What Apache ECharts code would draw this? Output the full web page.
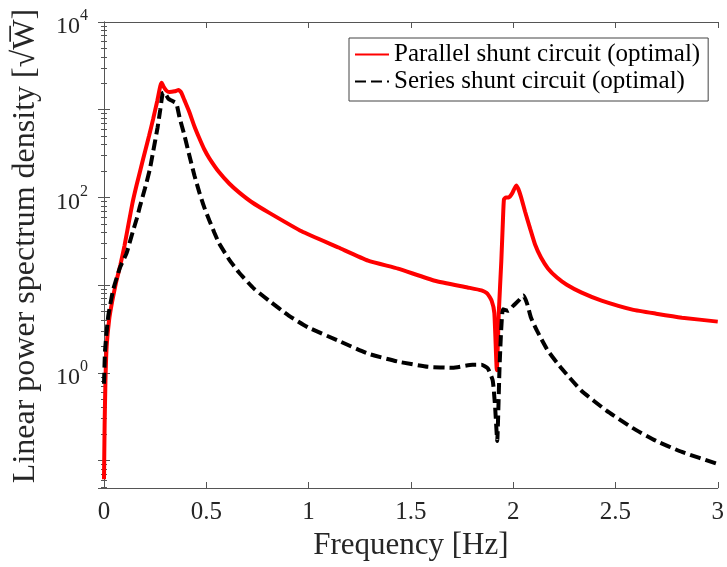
<!DOCTYPE html>
<html>
<head>
<meta charset="utf-8">
<script src="https://cdn.jsdelivr.net/npm/echarts@6/dist/echarts.min.js"></script>
<style>html,body{margin:0;padding:0;background:#fff}#c{width:727px;height:567px}</style>
</head>
<body>
<div id="c"></div>
<script>
// Frequency [Hz] and PSD values
const freqParallel = [0, 0.003, 0.007, 0.013, 0.025, 0.04, 0.06, 0.08, 0.1, 0.12, 0.14, 0.16, 0.18, 0.2, 0.22, 0.24, 0.26, 0.275, 0.282, 0.29, 0.305, 0.32, 0.345, 0.365, 0.378, 0.393, 0.4175, 0.4417, 0.466, 0.49, 0.515, 0.563, 0.612, 0.66, 0.723, 0.806, 0.966, 1.146, 1.291, 1.437, 1.617, 1.777, 1.845, 1.874, 1.895, 1.908, 1.92, 1.93, 1.942, 1.95, 1.955, 1.965, 1.979, 1.995, 2.015, 2.025, 2.039, 2.058, 2.083, 2.107, 2.136, 2.17, 2.214, 2.262, 2.335, 2.432, 2.583, 2.699, 2.825, 3.0];
const psdParallel = [0.061, 0.25, 0.8, 2.0, 4.0, 6.5, 11, 17, 28, 50, 88, 140, 215, 330, 500, 780, 1250, 1850, 2030, 1850, 1650, 1590, 1620, 1680, 1560, 1285, 936, 648, 472, 354, 279, 193, 144, 114, 88, 67, 41, 26.8, 19, 15.4, 11.2, 9.4, 8.7, 8.0, 6.6, 4.8, 1.07, 5, 18.6, 55, 95, 100, 100, 111, 137, 125, 100, 69, 44, 29, 20.6, 15.5, 12.2, 10.1, 8.2, 6.65, 5.25, 4.72, 4.25, 3.83];

const freqSeries = [0, 0.005, 0.02, 0.044, 0.078, 0.11, 0.14, 0.16, 0.175, 0.2, 0.223, 0.24, 0.262, 0.275, 0.287, 0.296, 0.305, 0.315, 0.325, 0.345, 0.354, 0.369, 0.393, 0.417, 0.442, 0.466, 0.49, 0.515, 0.539, 0.563, 0.612, 0.66, 0.733, 0.806, 0.903, 1.0, 1.146, 1.291, 1.437, 1.583, 1.704, 1.801, 1.845, 1.876, 1.9, 1.912, 1.922, 1.934, 1.95, 1.976, 2.0, 2.025, 2.05, 2.068, 2.087, 2.117, 2.17, 2.238, 2.335, 2.456, 2.583, 2.699, 2.825, 3.0];
const psdSeries = [0.75, 1.78, 4.3, 8.7, 15.8, 23, 40, 57, 78, 126, 204, 330, 630, 1000, 1550, 1580, 1450, 1330, 1290, 1220, 1186, 821, 511, 302, 178, 114, 77, 54.6, 39.8, 29.8, 19.5, 13.9, 9.1, 6.65, 4.48, 3.27, 2.32, 1.65, 1.34, 1.17, 1.14, 1.23, 1.23, 1.12, 0.82, 0.4, 0.167, 1.26, 5.3, 5.1, 5.8, 6.6, 7.6, 6.15, 4.25, 3.0, 1.78, 1.11, 0.62, 0.37, 0.235, 0.167, 0.125, 0.091];

const seriesNames = ['Parallel shunt circuit (optimal)', 'Series shunt circuit (optimal)'];
const xMin = 0, xMax = 3, xInterval = 0.5;
const yMin = 0.0485, yMax = 10000;
const yLabelExponents = [0, 2, 4];

const FONT = 'Liberation Serif';
const AX = '#555';

function pairs(xs, ys) { return xs.map((x, i) => [x, ys[i]]); }

const chart = echarts.init(document.getElementById('c'), null, {renderer: 'canvas'});

const yLabelFmt = function (v) {
  const e = Math.log10(v);
  const r = Math.round(e);
  if (Math.abs(e - r) < 1e-6 && yLabelExponents.indexOf(r) >= 0) {
    return '{b|10}{s|' + r + '}';
  }
  return '';
};

chart.setOption({
  animation: false,
  backgroundColor: '#fff',
  grid: {left: 104, right: 5, top: 22, bottom: 79, containLabel: false},
  legend: {
    orient: 'vertical',
    left: 349, top: 38,
    padding: [3, 8, 6, 5],
    itemGap: 0,
    itemWidth: 34, itemHeight: 1,
    backgroundColor: '#fff',
    borderColor: '#444', borderWidth: 1, borderRadius: 0,
    itemStyle: {opacity: 0},
    textStyle: {fontFamily: FONT, fontSize: 25, color: '#000', lineHeight: 27},
    data: seriesNames
  },
  xAxis: [{
    type: 'value', min: xMin, max: xMax, interval: xInterval, position: 'bottom',
    name: 'Frequency [Hz]', nameLocation: 'middle', nameGap: 40,
    nameTextStyle: {fontFamily: FONT, fontSize: 31, color: '#262626'},
    axisLine: {show: true, lineStyle: {color: AX, width: 1}},
    axisTick: {show: true, inside: true, length: 6, lineStyle: {color: AX}},
    axisLabel: {fontFamily: FONT, fontSize: 25, color: '#262626', margin: 12},
    splitLine: {show: false}
  }, {
    type: 'value', min: xMin, max: xMax, interval: xInterval, position: 'top',
    axisLine: {show: true, onZero: false, lineStyle: {color: AX, width: 1}},
    axisTick: {show: true, inside: true, length: 6, lineStyle: {color: AX}},
    axisLabel: {show: false},
    splitLine: {show: false}
  }],
  yAxis: [{
    type: 'log', logBase: 10, min: yMin, max: yMax, position: 'left',
    name: '{t|Linear power spectrum density [\u221AW\u0305]}', nameLocation: 'middle', nameGap: 62, nameRotate: 90,
    nameTextStyle: {
      rich: {t: {fontFamily: FONT, fontSize: 32, color: '#262626', padding: [0, 0, 0, 18]}}
    },
    axisLine: {show: true, lineStyle: {color: AX, width: 1}},
    axisTick: {show: true, inside: true, length: 6, lineStyle: {color: AX}},
    minorTick: {show: true, splitNumber: 9, length: 3, lineStyle: {color: AX}},
    axisLabel: {
      showMinLabel: false,
      margin: 16,
      formatter: yLabelFmt,
      rich: {
        b: {fontFamily: FONT, fontSize: 24, color: '#262626', lineHeight: 24, padding: [10, 0, 0, 0]},
        s: {fontFamily: FONT, fontSize: 16, color: '#262626', lineHeight: 16, padding: [0, 0, 12, 0]}
      }
    },
    splitLine: {show: false}
  }, {
    type: 'log', logBase: 10, min: yMin, max: yMax, position: 'right',
    axisLine: {show: true, lineStyle: {color: AX, width: 1}},
    axisTick: {show: true, inside: true, length: 6, lineStyle: {color: AX}},
    minorTick: {show: true, splitNumber: 9, length: 3, lineStyle: {color: AX}},
    axisLabel: {show: false},
    splitLine: {show: false}
  }],
  series: [{
    name: seriesNames[0], type: 'line', xAxisIndex: 0, yAxisIndex: 0,
    data: pairs(freqParallel, psdParallel),
    symbol: 'none', smooth: 0.15,
    lineStyle: {color: '#ff0000', width: 4, type: 'solid'},
    itemStyle: {color: '#ff0000'},
    z: 3
  }, {
    name: seriesNames[1], type: 'line', xAxisIndex: 0, yAxisIndex: 0,
    data: pairs(freqSeries, psdSeries),
    symbol: 'none', smooth: 0.15,
    lineStyle: {color: '#000000', width: 4, type: [11, 5]},
    itemStyle: {color: '#000000'},
    z: 4
  }]
});
</script>
</body>
</html>
